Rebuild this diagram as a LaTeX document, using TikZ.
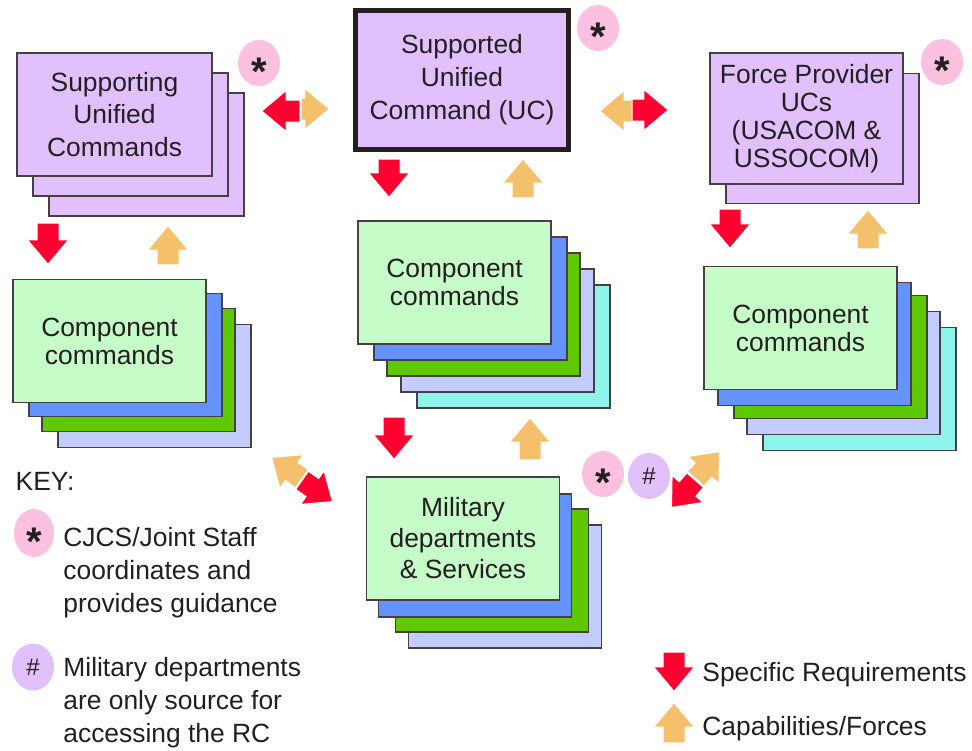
\documentclass[tikz,border=0pt]{standalone}
\usepackage{fontspec}
\setmainfont{Liberation Sans}
\usetikzlibrary{shapes.arrows,shapes.geometric}

\definecolor{lav}{HTML}{E2C0FD}
\definecolor{mint}{HTML}{C6FCC8}
\definecolor{skyblue}{HTML}{6492FE}
\definecolor{grass}{HTML}{5EC800}
\definecolor{paleblue}{HTML}{C2CCFE}
\definecolor{aqua}{HTML}{8CF4EA}
\definecolor{reqred}{HTML}{FF0030}
\definecolor{capgold}{HTML}{F5C06C}
\definecolor{pinkdot}{HTML}{FCC0E0}
\definecolor{lilacdot}{HTML}{E2C0FC}
\definecolor{ink}{HTML}{231F20}
\definecolor{edge}{HTML}{454045}

\tikzset{
	cmdbox/.style={draw=edge, line width=0.8pt, minimum width=96.5pt, minimum height=61.5pt, inner sep=0pt, align=center, text=ink, font=\fontsize{13.2}{14}\selectfont},
	ucbox/.style={cmdbox, draw=ink, line width=2.5pt, minimum width=106.5pt, minimum height=69.5pt, font=\fontsize{13.2}{16.5}\selectfont},
	reqarrow/.style={shape=single arrow, fill=reqred, draw=white, line width=0.5pt, inner sep=0pt, text height=10.5pt, text depth=0pt, text width=0pt, single arrow head extend=4.75pt, single arrow tip angle=80, single arrow head indent=0pt, anchor=tip, minimum height=#1},
	reqarrow/.default=19.5pt,
	caparrow/.style={reqarrow=#1, fill=capgold},
	caparrow/.default=19.5pt,
	starbadge/.style={ellipse, fill=pinkdot, minimum width=21pt, minimum height=23pt, inner sep=0pt, label={[font=\bfseries\fontsize{20}{20}\selectfont, text=ink, yshift=-4.2pt]center:*}},
	hashbadge/.style={ellipse, fill=lilacdot, minimum width=21pt, minimum height=23pt, inner sep=0pt, text=ink, font=\fontsize{12}{12}\selectfont},
	keytext/.style={inner sep=0pt, align=left, anchor=west, text=ink, font=\fontsize{13.2}{16.5}\selectfont},
}

\begin{document}
\begin{tikzpicture}[x=0.5pt, y=-0.5pt]
	\useasboundingbox (0,0) rectangle (972,750);

	% supporting unified commands
	\coordinate (s) at (114.5,114.5);
	\draw (s) ++(32,40) node (s3)[cmdbox, minimum width=97.5pt, fill=lav]{};
	\draw (s) ++(16,20) node (s2)[cmdbox, minimum width=97.5pt, fill=lav]{};
	\draw (s) node (s1)[cmdbox, minimum width=97.5pt, fill=lav, font=\fontsize{13.2}{16.25}\selectfont]{Supporting\\Unified\\Commands};

	% supported unified command
	\draw (462,80) node (uc)[ucbox, fill=lav]{Supported\\Unified\\Command (UC)};

	% force provider UCs
	\coordinate (f) at (806.5,118.5);
	\draw (f) ++(16,20) node (f2)[cmdbox, minimum height=65pt, fill=lav]{};
	\draw (f) node (f1)[cmdbox, minimum height=65.5pt, fill=lav]{Force Provider\\UCs\\(USACOM \&\\USSOCOM)};

	% component commands, left
	\coordinate (cl) at (109.5,341);
	\draw (cl) ++(45,45) node (cl4)[cmdbox, fill=paleblue]{};
	\draw (cl) ++(29,29) node (cl3)[cmdbox, fill=grass]{};
	\draw (cl) ++(16,14) node (cl2)[cmdbox, fill=skyblue]{};
	\draw (cl) node (cl1)[cmdbox, fill=mint]{Component\\commands};

	% component commands, centre
	\coordinate (cc) at (454.5,282.5);
	\draw (cc) ++(59,64) node (cc5)[cmdbox, fill=aqua]{};
	\draw (cc) ++(43,48) node (cc4)[cmdbox, fill=paleblue]{};
	\draw (cc) ++(29,32) node (cc3)[cmdbox, fill=grass]{};
	\draw (cc) ++(16,16) node (cc2)[cmdbox, fill=skyblue]{};
	\draw (cc) node (cc1)[cmdbox, fill=mint]{Component\\commands};

	% component commands, right
	\coordinate (cr) at (800.5,328);
	\draw (cr) ++(59,61) node (cr5)[cmdbox, fill=aqua]{};
	\draw (cr) ++(43,45) node (cr4)[cmdbox, fill=paleblue]{};
	\draw (cr) ++(30,29) node (cr3)[cmdbox, fill=grass]{};
	\draw (cr) ++(14,16) node (cr2)[cmdbox, fill=skyblue]{};
	\draw (cr) node (cr1)[cmdbox, fill=mint]{Component\\commands};

	% military departments & services
	\coordinate (m) at (463,538.5);
	\draw (m) ++(42,48) node (m4)[cmdbox, fill=paleblue]{};
	\draw (m) ++(29,32) node (m3)[cmdbox, fill=grass]{};
	\draw (m) ++(12,17) node (m2)[cmdbox, fill=skyblue]{};
	\draw (m) node (m1)[cmdbox, fill=mint, font=\fontsize{13.2}{15.5}\selectfont]{Military\\departments\\\& Services};

	% badges
	\draw (259,63) node (sstar)[starbadge]{};
	\draw (598,28) node (ucstar)[starbadge]{};
	\draw (942,62) node (fstar)[starbadge]{};
	\draw (603,474) node (mstar)[starbadge]{};
	\draw (649,476) node (mhash)[hashbadge]{\#};

	% requirements / capabilities
	\draw (48,265) node (sreq)[reqarrow=20.5pt, rotate=-90]{};
	\draw (168,225) node (scap)[caparrow, rotate=90]{};
	\draw (389,198) node (ucreq)[reqarrow=19pt, rotate=-90]{};
	\draw (523,158) node (uccap)[caparrow, rotate=90]{};
	\draw (730,249) node (freq)[reqarrow, rotate=-90]{};
	\draw (868,209) node (fcap)[caparrow, rotate=90]{};
	\draw (394,460) node (mreq)[reqarrow=21pt, rotate=-90]{};
	\draw (530,417) node (mcap)[caparrow=21pt, rotate=90]{};
	\draw (261,111) node (sucreq)[reqarrow=19pt, rotate=180]{};
	\draw (330,109) node (succap)[caparrow=14pt]{};
	\draw (599,111) node (fuccap)[caparrow=16.5pt, rotate=180]{};
	\draw (669,110) node (fucreq)[reqarrow=18pt]{};
	\draw (271,457) node (clmcap)[caparrow=18.5pt, rotate=145]{};
	\draw (333,502) node (clmreq)[reqarrow=18.5pt, rotate=-35]{};
	\draw (720,451) node (crmcap)[caparrow=18pt, rotate=49]{};
	\draw (671,508) node (crmreq)[reqarrow=18pt, rotate=229]{};

	% key
	\draw (45,481) node (key)[text=ink, font=\fontsize{13.2}{16.5}\selectfont]{KEY:};
	\draw (34,533) node (kstar)[starbadge, minimum width=20pt, minimum height=24pt]{};
	\draw (63,573) node (kstartext)[keytext]{CJCS/Joint Staff\\coordinates and\\provides guidance};
	\draw (33,667) node (khash)[hashbadge, minimum height=23.5pt]{\#};
	\draw (63,703) node (khashtext)[keytext]{Military departments\\are only source for\\accessing the RC};

	\draw (674,692) node (kreq)[reqarrow, rotate=-90]{};
	\draw (674,702) node (kcap)[caparrow=20pt, rotate=90]{};
	\draw (702,675) node (kreqtext)[keytext]{Specific Requirements};
	\draw (702,729) node (kcaptext)[keytext]{Capabilities/Forces};
\end{tikzpicture}
\end{document}
